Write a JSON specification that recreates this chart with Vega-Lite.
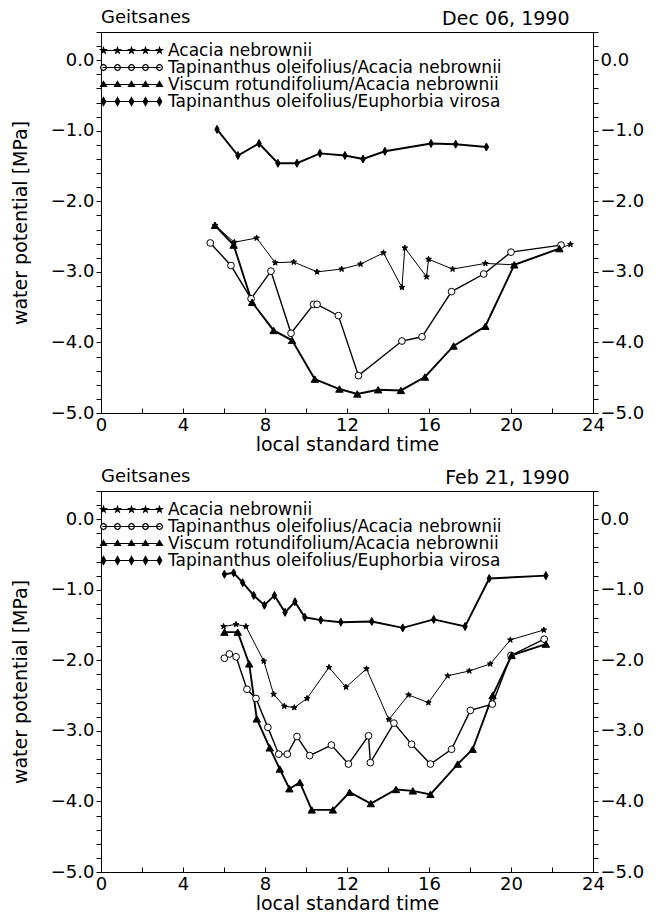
{
 "$schema": "https://vega.github.io/schema/vega-lite/v6.json",
 "padding": {"left": 10, "top": 8, "right": 2, "bottom": 0},
 "spacing": 12,
 "config": {
  "font": "DejaVu Sans",
  "view": {"stroke": "black", "strokeWidth": 1},
  "axis": {"grid": false, "domainColor": "black", "tickColor": "black", "labelColor": "black", "titleColor": "black", "labelFontSize": 18, "titleFontSize": 19, "titleFontWeight": "normal", "labelFont": "DejaVu Sans", "titleFont": "DejaVu Sans"},
  "title": {"fontSize": 18, "fontWeight": "normal", "font": "DejaVu Sans", "color": "black", "anchor": "start", "frame": "group"}
 },
 "datasets": {
  "d": [
   {"p":"Dec","s":"Acacia nebrownii","t":5.56,"v":-2.34},
   {"p":"Dec","s":"Acacia nebrownii","t":6.5,"v":-2.58},
   {"p":"Dec","s":"Acacia nebrownii","t":7.59,"v":-2.52},
   {"p":"Dec","s":"Acacia nebrownii","t":8.5,"v":-2.87},
   {"p":"Dec","s":"Acacia nebrownii","t":9.4,"v":-2.86},
   {"p":"Dec","s":"Acacia nebrownii","t":10.54,"v":-3.0},
   {"p":"Dec","s":"Acacia nebrownii","t":11.74,"v":-2.96},
   {"p":"Dec","s":"Acacia nebrownii","t":12.66,"v":-2.89},
   {"p":"Dec","s":"Acacia nebrownii","t":13.78,"v":-2.73},
   {"p":"Dec","s":"Acacia nebrownii","t":14.68,"v":-3.22},
   {"p":"Dec","s":"Acacia nebrownii","t":14.82,"v":-2.66},
   {"p":"Dec","s":"Acacia nebrownii","t":15.88,"v":-3.07},
   {"p":"Dec","s":"Acacia nebrownii","t":15.98,"v":-2.82},
   {"p":"Dec","s":"Acacia nebrownii","t":17.15,"v":-2.96},
   {"p":"Dec","s":"Acacia nebrownii","t":18.75,"v":-2.88},
   {"p":"Dec","s":"Acacia nebrownii","t":20.16,"v":-2.9},
   {"p":"Dec","s":"Acacia nebrownii","t":22.9,"v":-2.61},
   {"p":"Dec","s":"Tapinanthus oleifolius/Acacia nebrownii","t":5.33,"v":-2.59},
   {"p":"Dec","s":"Tapinanthus oleifolius/Acacia nebrownii","t":6.34,"v":-2.91},
   {"p":"Dec","s":"Tapinanthus oleifolius/Acacia nebrownii","t":7.32,"v":-3.38},
   {"p":"Dec","s":"Tapinanthus oleifolius/Acacia nebrownii","t":8.29,"v":-2.99},
   {"p":"Dec","s":"Tapinanthus oleifolius/Acacia nebrownii","t":9.27,"v":-3.87},
   {"p":"Dec","s":"Tapinanthus oleifolius/Acacia nebrownii","t":10.37,"v":-3.46},
   {"p":"Dec","s":"Tapinanthus oleifolius/Acacia nebrownii","t":10.54,"v":-3.46},
   {"p":"Dec","s":"Tapinanthus oleifolius/Acacia nebrownii","t":11.58,"v":-3.62},
   {"p":"Dec","s":"Tapinanthus oleifolius/Acacia nebrownii","t":12.56,"v":-4.47},
   {"p":"Dec","s":"Tapinanthus oleifolius/Acacia nebrownii","t":14.68,"v":-3.98},
   {"p":"Dec","s":"Tapinanthus oleifolius/Acacia nebrownii","t":15.66,"v":-3.92},
   {"p":"Dec","s":"Tapinanthus oleifolius/Acacia nebrownii","t":17.1,"v":-3.28},
   {"p":"Dec","s":"Tapinanthus oleifolius/Acacia nebrownii","t":18.67,"v":-3.03},
   {"p":"Dec","s":"Tapinanthus oleifolius/Acacia nebrownii","t":20.0,"v":-2.72},
   {"p":"Dec","s":"Tapinanthus oleifolius/Acacia nebrownii","t":22.44,"v":-2.62},
   {"p":"Dec","s":"Viscum rotundifolium/Acacia nebrownii","t":5.56,"v":-2.34},
   {"p":"Dec","s":"Viscum rotundifolium/Acacia nebrownii","t":6.47,"v":-2.62},
   {"p":"Dec","s":"Viscum rotundifolium/Acacia nebrownii","t":7.37,"v":-3.43},
   {"p":"Dec","s":"Viscum rotundifolium/Acacia nebrownii","t":8.42,"v":-3.83},
   {"p":"Dec","s":"Viscum rotundifolium/Acacia nebrownii","t":9.32,"v":-3.97},
   {"p":"Dec","s":"Viscum rotundifolium/Acacia nebrownii","t":10.43,"v":-4.52},
   {"p":"Dec","s":"Viscum rotundifolium/Acacia nebrownii","t":11.63,"v":-4.66},
   {"p":"Dec","s":"Viscum rotundifolium/Acacia nebrownii","t":12.5,"v":-4.73},
   {"p":"Dec","s":"Viscum rotundifolium/Acacia nebrownii","t":13.52,"v":-4.67},
   {"p":"Dec","s":"Viscum rotundifolium/Acacia nebrownii","t":14.63,"v":-4.68},
   {"p":"Dec","s":"Viscum rotundifolium/Acacia nebrownii","t":15.8,"v":-4.49},
   {"p":"Dec","s":"Viscum rotundifolium/Acacia nebrownii","t":17.2,"v":-4.05},
   {"p":"Dec","s":"Viscum rotundifolium/Acacia nebrownii","t":18.75,"v":-3.77},
   {"p":"Dec","s":"Viscum rotundifolium/Acacia nebrownii","t":20.16,"v":-2.9},
   {"p":"Dec","s":"Viscum rotundifolium/Acacia nebrownii","t":22.36,"v":-2.67},
   {"p":"Dec","s":"Tapinanthus oleifolius/Euphorbia virosa","t":5.66,"v":-0.98},
   {"p":"Dec","s":"Tapinanthus oleifolius/Euphorbia virosa","t":6.68,"v":-1.35},
   {"p":"Dec","s":"Tapinanthus oleifolius/Euphorbia virosa","t":7.71,"v":-1.18},
   {"p":"Dec","s":"Tapinanthus oleifolius/Euphorbia virosa","t":8.63,"v":-1.46},
   {"p":"Dec","s":"Tapinanthus oleifolius/Euphorbia virosa","t":9.56,"v":-1.46},
   {"p":"Dec","s":"Tapinanthus oleifolius/Euphorbia virosa","t":10.68,"v":-1.32},
   {"p":"Dec","s":"Tapinanthus oleifolius/Euphorbia virosa","t":11.9,"v":-1.35},
   {"p":"Dec","s":"Tapinanthus oleifolius/Euphorbia virosa","t":12.78,"v":-1.4},
   {"p":"Dec","s":"Tapinanthus oleifolius/Euphorbia virosa","t":13.85,"v":-1.29},
   {"p":"Dec","s":"Tapinanthus oleifolius/Euphorbia virosa","t":16.1,"v":-1.18},
   {"p":"Dec","s":"Tapinanthus oleifolius/Euphorbia virosa","t":17.3,"v":-1.19},
   {"p":"Dec","s":"Tapinanthus oleifolius/Euphorbia virosa","t":18.8,"v":-1.23},

   {"p":"Feb","s":"Acacia nebrownii","t":5.98,"v":-1.52},
   {"p":"Feb","s":"Acacia nebrownii","t":6.59,"v":-1.49},
   {"p":"Feb","s":"Acacia nebrownii","t":7.07,"v":-1.52},
   {"p":"Feb","s":"Acacia nebrownii","t":7.94,"v":-2.01},
   {"p":"Feb","s":"Acacia nebrownii","t":8.42,"v":-2.48},
   {"p":"Feb","s":"Acacia nebrownii","t":8.94,"v":-2.65},
   {"p":"Feb","s":"Acacia nebrownii","t":9.43,"v":-2.67},
   {"p":"Feb","s":"Acacia nebrownii","t":10.05,"v":-2.54},
   {"p":"Feb","s":"Acacia nebrownii","t":11.12,"v":-2.1},
   {"p":"Feb","s":"Acacia nebrownii","t":11.95,"v":-2.38},
   {"p":"Feb","s":"Acacia nebrownii","t":12.95,"v":-2.12},
   {"p":"Feb","s":"Acacia nebrownii","t":14.04,"v":-2.84},
   {"p":"Feb","s":"Acacia nebrownii","t":15.0,"v":-2.49},
   {"p":"Feb","s":"Acacia nebrownii","t":15.97,"v":-2.6},
   {"p":"Feb","s":"Acacia nebrownii","t":16.91,"v":-2.22},
   {"p":"Feb","s":"Acacia nebrownii","t":17.97,"v":-2.15},
   {"p":"Feb","s":"Acacia nebrownii","t":18.99,"v":-2.05},
   {"p":"Feb","s":"Acacia nebrownii","t":19.97,"v":-1.71},
   {"p":"Feb","s":"Acacia nebrownii","t":21.6,"v":-1.57},
   {"p":"Feb","s":"Tapinanthus oleifolius/Acacia nebrownii","t":6.02,"v":-1.97},
   {"p":"Feb","s":"Tapinanthus oleifolius/Acacia nebrownii","t":6.26,"v":-1.91},
   {"p":"Feb","s":"Tapinanthus oleifolius/Acacia nebrownii","t":6.59,"v":-1.95},
   {"p":"Feb","s":"Tapinanthus oleifolius/Acacia nebrownii","t":7.12,"v":-2.41},
   {"p":"Feb","s":"Tapinanthus oleifolius/Acacia nebrownii","t":7.56,"v":-2.54},
   {"p":"Feb","s":"Tapinanthus oleifolius/Acacia nebrownii","t":8.14,"v":-2.95},
   {"p":"Feb","s":"Tapinanthus oleifolius/Acacia nebrownii","t":8.67,"v":-3.33},
   {"p":"Feb","s":"Tapinanthus oleifolius/Acacia nebrownii","t":9.09,"v":-3.33},
   {"p":"Feb","s":"Tapinanthus oleifolius/Acacia nebrownii","t":9.56,"v":-3.08},
   {"p":"Feb","s":"Tapinanthus oleifolius/Acacia nebrownii","t":10.18,"v":-3.35},
   {"p":"Feb","s":"Tapinanthus oleifolius/Acacia nebrownii","t":11.24,"v":-3.2},
   {"p":"Feb","s":"Tapinanthus oleifolius/Acacia nebrownii","t":12.07,"v":-3.47},
   {"p":"Feb","s":"Tapinanthus oleifolius/Acacia nebrownii","t":13.05,"v":-3.07},
   {"p":"Feb","s":"Tapinanthus oleifolius/Acacia nebrownii","t":13.14,"v":-3.45},
   {"p":"Feb","s":"Tapinanthus oleifolius/Acacia nebrownii","t":14.29,"v":-2.89},
   {"p":"Feb","s":"Tapinanthus oleifolius/Acacia nebrownii","t":15.15,"v":-3.19},
   {"p":"Feb","s":"Tapinanthus oleifolius/Acacia nebrownii","t":16.07,"v":-3.47},
   {"p":"Feb","s":"Tapinanthus oleifolius/Acacia nebrownii","t":17.1,"v":-3.26},
   {"p":"Feb","s":"Tapinanthus oleifolius/Acacia nebrownii","t":18.02,"v":-2.71},
   {"p":"Feb","s":"Tapinanthus oleifolius/Acacia nebrownii","t":19.09,"v":-2.62},
   {"p":"Feb","s":"Tapinanthus oleifolius/Acacia nebrownii","t":20.0,"v":-1.93},
   {"p":"Feb","s":"Tapinanthus oleifolius/Acacia nebrownii","t":21.62,"v":-1.7},
   {"p":"Feb","s":"Viscum rotundifolium/Acacia nebrownii","t":6.02,"v":-1.6},
   {"p":"Feb","s":"Viscum rotundifolium/Acacia nebrownii","t":6.67,"v":-1.6},
   {"p":"Feb","s":"Viscum rotundifolium/Acacia nebrownii","t":7.23,"v":-2.05},
   {"p":"Feb","s":"Viscum rotundifolium/Acacia nebrownii","t":7.6,"v":-2.83},
   {"p":"Feb","s":"Viscum rotundifolium/Acacia nebrownii","t":8.23,"v":-3.24},
   {"p":"Feb","s":"Viscum rotundifolium/Acacia nebrownii","t":8.72,"v":-3.54},
   {"p":"Feb","s":"Viscum rotundifolium/Acacia nebrownii","t":9.19,"v":-3.82},
   {"p":"Feb","s":"Viscum rotundifolium/Acacia nebrownii","t":9.7,"v":-3.73},
   {"p":"Feb","s":"Viscum rotundifolium/Acacia nebrownii","t":10.28,"v":-4.12},
   {"p":"Feb","s":"Viscum rotundifolium/Acacia nebrownii","t":11.31,"v":-4.12},
   {"p":"Feb","s":"Viscum rotundifolium/Acacia nebrownii","t":12.13,"v":-3.87},
   {"p":"Feb","s":"Viscum rotundifolium/Acacia nebrownii","t":13.16,"v":-4.03},
   {"p":"Feb","s":"Viscum rotundifolium/Acacia nebrownii","t":14.39,"v":-3.83},
   {"p":"Feb","s":"Viscum rotundifolium/Acacia nebrownii","t":15.21,"v":-3.85},
   {"p":"Feb","s":"Viscum rotundifolium/Acacia nebrownii","t":16.07,"v":-3.9},
   {"p":"Feb","s":"Viscum rotundifolium/Acacia nebrownii","t":17.4,"v":-3.47},
   {"p":"Feb","s":"Viscum rotundifolium/Acacia nebrownii","t":18.13,"v":-3.26},
   {"p":"Feb","s":"Viscum rotundifolium/Acacia nebrownii","t":19.1,"v":-2.5},
   {"p":"Feb","s":"Viscum rotundifolium/Acacia nebrownii","t":20.03,"v":-1.93},
   {"p":"Feb","s":"Viscum rotundifolium/Acacia nebrownii","t":21.7,"v":-1.77},
   {"p":"Feb","s":"Tapinanthus oleifolius/Euphorbia virosa","t":6.02,"v":-0.78},
   {"p":"Feb","s":"Tapinanthus oleifolius/Euphorbia virosa","t":6.47,"v":-0.76},
   {"p":"Feb","s":"Tapinanthus oleifolius/Euphorbia virosa","t":6.91,"v":-0.9},
   {"p":"Feb","s":"Tapinanthus oleifolius/Euphorbia virosa","t":7.45,"v":-1.08},
   {"p":"Feb","s":"Tapinanthus oleifolius/Euphorbia virosa","t":7.97,"v":-1.22},
   {"p":"Feb","s":"Tapinanthus oleifolius/Euphorbia virosa","t":8.46,"v":-1.08},
   {"p":"Feb","s":"Tapinanthus oleifolius/Euphorbia virosa","t":8.98,"v":-1.32},
   {"p":"Feb","s":"Tapinanthus oleifolius/Euphorbia virosa","t":9.46,"v":-1.17},
   {"p":"Feb","s":"Tapinanthus oleifolius/Euphorbia virosa","t":9.94,"v":-1.39},
   {"p":"Feb","s":"Tapinanthus oleifolius/Euphorbia virosa","t":10.72,"v":-1.43},
   {"p":"Feb","s":"Tapinanthus oleifolius/Euphorbia virosa","t":11.7,"v":-1.46},
   {"p":"Feb","s":"Tapinanthus oleifolius/Euphorbia virosa","t":13.21,"v":-1.45},
   {"p":"Feb","s":"Tapinanthus oleifolius/Euphorbia virosa","t":14.72,"v":-1.54},
   {"p":"Feb","s":"Tapinanthus oleifolius/Euphorbia virosa","t":16.23,"v":-1.42},
   {"p":"Feb","s":"Tapinanthus oleifolius/Euphorbia virosa","t":17.76,"v":-1.52},
   {"p":"Feb","s":"Tapinanthus oleifolius/Euphorbia virosa","t":18.94,"v":-0.84},
   {"p":"Feb","s":"Tapinanthus oleifolius/Euphorbia virosa","t":21.7,"v":-0.8}
  ]
 },
 "resolve": {"scale": {"shape": "independent", "fill": "independent", "size": "independent", "stroke": "independent"}, "legend": {"shape": "independent", "fill": "independent", "size": "independent", "stroke": "independent"}},
 "vconcat": [
  {
   "width": 492, "height": 381,
   "data": {"name": "d"},
   "transform": [{"filter": "datum.p === 'Dec'"}],
   "title": {"text": "Geitsanes", "offset": -18},
   "layer": [
    {
     "transform": [{"filter": "datum.s === 'Acacia nebrownii'"}],
     "mark": {"type": "line", "color": "black", "strokeWidth": 1},
     "encoding": {
      "x": {"field": "t", "type": "quantitative", "scale": {"domain": [0, 24], "nice": false}, "axis": {"values": [0,1,2,3,4,5,6,7,8,9,10,11,12,13,14,15,16,17,18,19,20,21,22,23,24], "labelExpr": "datum.value % 4 === 0 ? datum.label : ''", "format": "d", "tickSize": -5, "labelPadding": 8, "labelFlush": false, "labelOverlap": false, "title": "local standard time", "titlePadding": 1}},
      "y": {"field": "v", "type": "quantitative", "scale": {"domain": [-5, 0.4], "nice": false, "zero": false}, "axis": {"orient": "left", "values": [-5,-4.8,-4.6,-4.4,-4.2,-4,-3.8,-3.6,-3.4,-3.2,-3,-2.8,-2.6,-2.4,-2.2,-2,-1.8,-1.6,-1.4,-1.2,-1,-0.8,-0.6,-0.4,-0.2,0,0.2,0.4], "labelExpr": "abs(datum.value - round(datum.value)) < 0.01 ? format(datum.value, '.1f') : ''", "tickSize": 5, "labelPadding": 2, "labelOverlap": false, "labelFlush": false, "title": "water potential [MPa]", "titlePadding": 20}}
     }
    },
    {
     "transform": [{"filter": "datum.s === 'Tapinanthus oleifolius/Acacia nebrownii'"}],
     "mark": {"type": "line", "color": "black", "strokeWidth": 1.4},
     "encoding": {
      "x": {"field": "t", "type": "quantitative"},
      "y": {"field": "v", "type": "quantitative", "axis": null}
     }
    },
    {
     "transform": [{"filter": "datum.s === 'Viscum rotundifolium/Acacia nebrownii' || datum.s === 'Tapinanthus oleifolius/Euphorbia virosa'"}],
     "mark": {"type": "line", "color": "black", "strokeWidth": 1.9},
     "encoding": {
      "x": {"field": "t", "type": "quantitative"},
      "y": {"field": "v", "type": "quantitative", "axis": null},
      "detail": {"field": "s"}
     }
    },
    {
     "mark": {"type": "point", "filled": true, "stroke": "black", "strokeWidth": 1, "opacity": 1},
     "encoding": {
      "x": {"field": "t", "type": "quantitative"},
      "y": {"field": "v", "type": "quantitative", "axis": {"orient": "right", "values": [-5,-4.8,-4.6,-4.4,-4.2,-4,-3.8,-3.6,-3.4,-3.2,-3,-2.8,-2.6,-2.4,-2.2,-2,-1.8,-1.6,-1.4,-1.2,-1,-0.8,-0.6,-0.4,-0.2,0,0.2,0.4], "labelExpr": "abs(datum.value - round(datum.value)) < 0.01 ? format(datum.value, '.1f') : ''", "tickSize": 5, "labelPadding": 2, "labelOverlap": false, "labelFlush": false, "title": "Dec 06, 1990", "titleFontSize": 19, "titleAngle": 0, "titleX": -24, "titleY": -8, "titleAlign": "right", "titleBaseline": "alphabetic"}},
      "shape": {"field": "s", "type": "nominal", "scale": {"domain": ["Acacia nebrownii", "Tapinanthus oleifolius/Acacia nebrownii", "Viscum rotundifolium/Acacia nebrownii", "Tapinanthus oleifolius/Euphorbia virosa"], "range": ["M0,-1L0.235,-0.324L0.951,-0.309L0.38,0.124L0.588,0.809L0,0.4L-0.588,0.809L-0.38,0.124L-0.951,-0.309L-0.235,-0.324Z", "circle", "triangle-up", "M0,-1L0.55,0L0,1L-0.55,0Z"]}, "legend": null},
      "fill": {"field": "s", "type": "nominal", "scale": {"domain": ["Acacia nebrownii", "Tapinanthus oleifolius/Acacia nebrownii", "Viscum rotundifolium/Acacia nebrownii", "Tapinanthus oleifolius/Euphorbia virosa"], "range": ["black", "white", "black", "black"]}, "legend": null},
      "size": {"field": "s", "type": "nominal", "scale": {"domain": ["Acacia nebrownii", "Tapinanthus oleifolius/Acacia nebrownii", "Viscum rotundifolium/Acacia nebrownii", "Tapinanthus oleifolius/Euphorbia virosa"], "range": [36, 64, 40, 81]}, "legend": null}
     }
    },
    {
     "transform": [{"filter": "datum.t < 0"}],
     "mark": {"type": "point", "filled": true, "stroke": "black", "strokeWidth": 1.2, "opacity": 1},
     "encoding": {
      "x": {"field": "t", "type": "quantitative"},
      "y": {"field": "v", "type": "quantitative", "axis": null},
      "shape": {"field": "s", "type": "nominal", "scale": {"domain": ["Acacia nebrownii", "Tapinanthus oleifolius/Acacia nebrownii", "Viscum rotundifolium/Acacia nebrownii", "Tapinanthus oleifolius/Euphorbia virosa"], "range": ["M-1,0L57,0M0,-3L0.71,-0.97L2.85,-0.93L1.14,0.37L1.76,2.43L0,1.2L-1.76,2.43L-1.14,0.37L-2.85,-0.93L-0.71,-0.97ZM14,-3L14.71,-0.97L16.85,-0.93L15.14,0.37L15.76,2.43L14,1.2L12.24,2.43L12.86,0.37L11.15,-0.93L13.29,-0.97ZM28,-3L28.71,-0.97L30.85,-0.93L29.14,0.37L29.76,2.43L28,1.2L26.24,2.43L26.86,0.37L25.15,-0.93L27.29,-0.97ZM42,-3L42.71,-0.97L44.85,-0.93L43.14,0.37L43.76,2.43L42,1.2L40.24,2.43L40.86,0.37L39.15,-0.93L41.29,-0.97ZM56,-3L56.71,-0.97L58.85,-0.93L57.14,0.37L57.76,2.43L56,1.2L54.24,2.43L54.86,0.37L53.15,-0.93L55.29,-0.97Z", "M-1,0L57,0M3,0L2.1,2.1L0,3L-2.1,2.1L-3,0L-2.1,-2.1L0,-3L2.1,-2.1ZM17,0L16.1,2.1L14,3L11.9,2.1L11,0L11.9,-2.1L14,-3L16.1,-2.1ZM31,0L30.1,2.1L28,3L25.9,2.1L25,0L25.9,-2.1L28,-3L30.1,-2.1ZM45,0L44.1,2.1L42,3L39.9,2.1L39,0L39.9,-2.1L42,-3L44.1,-2.1ZM59,0L58.1,2.1L56,3L53.9,2.1L53,0L53.9,-2.1L56,-3L58.1,-2.1Z", "M-1,0L57,0M0,-3L3,2L-3,2ZM14,-3L17,2L11,2ZM28,-3L31,2L25,2ZM42,-3L45,2L39,2ZM56,-3L59,2L53,2Z", "M-1,0L57,0M0,-4L2.2,0L0,4L-2.2,0ZM14,-4L16.2,0L14,4L11.8,0ZM28,-4L30.2,0L28,4L25.8,0ZM42,-4L44.2,0L42,4L39.8,0ZM56,-4L58.2,0L56,4L53.8,0Z"]},
       "legend": {"orient": "none", "legendX": -6, "legendY": 10, "title": null, "padding": 0, "labelFontSize": 17, "labelFont": "DejaVu Sans", "labelColor": "black", "labelLimit": 600, "labelOffset": 56, "rowPadding": -3, "symbolSize": 4, "symbolStrokeWidth": 1.2, "symbolOpacity": 1}},
      "fill": {"field": "s", "type": "nominal", "scale": {"domain": ["Acacia nebrownii", "Tapinanthus oleifolius/Acacia nebrownii", "Viscum rotundifolium/Acacia nebrownii", "Tapinanthus oleifolius/Euphorbia virosa"], "range": ["black", "white", "black", "black"]}},
      "stroke": {"field": "s", "type": "nominal", "scale": {"domain": ["Acacia nebrownii", "Tapinanthus oleifolius/Acacia nebrownii", "Viscum rotundifolium/Acacia nebrownii", "Tapinanthus oleifolius/Euphorbia virosa"], "range": ["black", "black", "black", "black"]}}
     }
    }
   ],
   "resolve": {"axis": {"y": "independent"}, "scale": {"shape": "independent", "fill": "independent", "size": "independent", "stroke": "independent"}}
  },
  {
   "width": 492, "height": 381,
   "data": {"name": "d"},
   "transform": [{"filter": "datum.p === 'Feb'"}],
   "title": {"text": "Geitsanes", "offset": -18},
   "layer": [
    {
     "transform": [{"filter": "datum.s === 'Acacia nebrownii'"}],
     "mark": {"type": "line", "color": "black", "strokeWidth": 1},
     "encoding": {
      "x": {"field": "t", "type": "quantitative", "scale": {"domain": [0, 24], "nice": false}, "axis": {"values": [0,1,2,3,4,5,6,7,8,9,10,11,12,13,14,15,16,17,18,19,20,21,22,23,24], "labelExpr": "datum.value % 4 === 0 ? datum.label : ''", "format": "d", "tickSize": -5, "labelPadding": 8, "labelFlush": false, "labelOverlap": false, "title": "local standard time", "titlePadding": 1}},
      "y": {"field": "v", "type": "quantitative", "scale": {"domain": [-5, 0.4], "nice": false, "zero": false}, "axis": {"orient": "left", "values": [-5,-4.8,-4.6,-4.4,-4.2,-4,-3.8,-3.6,-3.4,-3.2,-3,-2.8,-2.6,-2.4,-2.2,-2,-1.8,-1.6,-1.4,-1.2,-1,-0.8,-0.6,-0.4,-0.2,0,0.2,0.4], "labelExpr": "abs(datum.value - round(datum.value)) < 0.01 ? format(datum.value, '.1f') : ''", "tickSize": 5, "labelPadding": 2, "labelOverlap": false, "labelFlush": false, "title": "water potential [MPa]", "titlePadding": 20}}
     }
    },
    {
     "transform": [{"filter": "datum.s === 'Tapinanthus oleifolius/Acacia nebrownii'"}],
     "mark": {"type": "line", "color": "black", "strokeWidth": 1.4},
     "encoding": {
      "x": {"field": "t", "type": "quantitative"},
      "y": {"field": "v", "type": "quantitative", "axis": null}
     }
    },
    {
     "transform": [{"filter": "datum.s === 'Viscum rotundifolium/Acacia nebrownii' || datum.s === 'Tapinanthus oleifolius/Euphorbia virosa'"}],
     "mark": {"type": "line", "color": "black", "strokeWidth": 1.9},
     "encoding": {
      "x": {"field": "t", "type": "quantitative"},
      "y": {"field": "v", "type": "quantitative", "axis": null},
      "detail": {"field": "s"}
     }
    },
    {
     "mark": {"type": "point", "filled": true, "stroke": "black", "strokeWidth": 1, "opacity": 1},
     "encoding": {
      "x": {"field": "t", "type": "quantitative"},
      "y": {"field": "v", "type": "quantitative", "axis": {"orient": "right", "values": [-5,-4.8,-4.6,-4.4,-4.2,-4,-3.8,-3.6,-3.4,-3.2,-3,-2.8,-2.6,-2.4,-2.2,-2,-1.8,-1.6,-1.4,-1.2,-1,-0.8,-0.6,-0.4,-0.2,0,0.2,0.4], "labelExpr": "abs(datum.value - round(datum.value)) < 0.01 ? format(datum.value, '.1f') : ''", "tickSize": 5, "labelPadding": 2, "labelOverlap": false, "labelFlush": false, "title": "Feb 21, 1990", "titleFontSize": 19, "titleAngle": 0, "titleX": -24, "titleY": -8, "titleAlign": "right", "titleBaseline": "alphabetic"}},
      "shape": {"field": "s", "type": "nominal", "scale": {"domain": ["Acacia nebrownii", "Tapinanthus oleifolius/Acacia nebrownii", "Viscum rotundifolium/Acacia nebrownii", "Tapinanthus oleifolius/Euphorbia virosa"], "range": ["M0,-1L0.235,-0.324L0.951,-0.309L0.38,0.124L0.588,0.809L0,0.4L-0.588,0.809L-0.38,0.124L-0.951,-0.309L-0.235,-0.324Z", "circle", "triangle-up", "M0,-1L0.55,0L0,1L-0.55,0Z"]}, "legend": null},
      "fill": {"field": "s", "type": "nominal", "scale": {"domain": ["Acacia nebrownii", "Tapinanthus oleifolius/Acacia nebrownii", "Viscum rotundifolium/Acacia nebrownii", "Tapinanthus oleifolius/Euphorbia virosa"], "range": ["black", "white", "black", "black"]}, "legend": null},
      "size": {"field": "s", "type": "nominal", "scale": {"domain": ["Acacia nebrownii", "Tapinanthus oleifolius/Acacia nebrownii", "Viscum rotundifolium/Acacia nebrownii", "Tapinanthus oleifolius/Euphorbia virosa"], "range": [36, 64, 40, 81]}, "legend": null}
     }
    },
    {
     "transform": [{"filter": "datum.t < 0"}],
     "mark": {"type": "point", "filled": true, "stroke": "black", "strokeWidth": 1.2, "opacity": 1},
     "encoding": {
      "x": {"field": "t", "type": "quantitative"},
      "y": {"field": "v", "type": "quantitative", "axis": null},
      "shape": {"field": "s", "type": "nominal", "scale": {"domain": ["Acacia nebrownii", "Tapinanthus oleifolius/Acacia nebrownii", "Viscum rotundifolium/Acacia nebrownii", "Tapinanthus oleifolius/Euphorbia virosa"], "range": ["M-1,0L57,0M0,-3L0.71,-0.97L2.85,-0.93L1.14,0.37L1.76,2.43L0,1.2L-1.76,2.43L-1.14,0.37L-2.85,-0.93L-0.71,-0.97ZM14,-3L14.71,-0.97L16.85,-0.93L15.14,0.37L15.76,2.43L14,1.2L12.24,2.43L12.86,0.37L11.15,-0.93L13.29,-0.97ZM28,-3L28.71,-0.97L30.85,-0.93L29.14,0.37L29.76,2.43L28,1.2L26.24,2.43L26.86,0.37L25.15,-0.93L27.29,-0.97ZM42,-3L42.71,-0.97L44.85,-0.93L43.14,0.37L43.76,2.43L42,1.2L40.24,2.43L40.86,0.37L39.15,-0.93L41.29,-0.97ZM56,-3L56.71,-0.97L58.85,-0.93L57.14,0.37L57.76,2.43L56,1.2L54.24,2.43L54.86,0.37L53.15,-0.93L55.29,-0.97Z", "M-1,0L57,0M3,0L2.1,2.1L0,3L-2.1,2.1L-3,0L-2.1,-2.1L0,-3L2.1,-2.1ZM17,0L16.1,2.1L14,3L11.9,2.1L11,0L11.9,-2.1L14,-3L16.1,-2.1ZM31,0L30.1,2.1L28,3L25.9,2.1L25,0L25.9,-2.1L28,-3L30.1,-2.1ZM45,0L44.1,2.1L42,3L39.9,2.1L39,0L39.9,-2.1L42,-3L44.1,-2.1ZM59,0L58.1,2.1L56,3L53.9,2.1L53,0L53.9,-2.1L56,-3L58.1,-2.1Z", "M-1,0L57,0M0,-3L3,2L-3,2ZM14,-3L17,2L11,2ZM28,-3L31,2L25,2ZM42,-3L45,2L39,2ZM56,-3L59,2L53,2Z", "M-1,0L57,0M0,-4L2.2,0L0,4L-2.2,0ZM14,-4L16.2,0L14,4L11.8,0ZM28,-4L30.2,0L28,4L25.8,0ZM42,-4L44.2,0L42,4L39.8,0ZM56,-4L58.2,0L56,4L53.8,0Z"]},
       "legend": {"orient": "none", "legendX": -6, "legendY": 10, "title": null, "padding": 0, "labelFontSize": 17, "labelFont": "DejaVu Sans", "labelColor": "black", "labelLimit": 600, "labelOffset": 56, "rowPadding": -3, "symbolSize": 4, "symbolStrokeWidth": 1.2, "symbolOpacity": 1}},
      "fill": {"field": "s", "type": "nominal", "scale": {"domain": ["Acacia nebrownii", "Tapinanthus oleifolius/Acacia nebrownii", "Viscum rotundifolium/Acacia nebrownii", "Tapinanthus oleifolius/Euphorbia virosa"], "range": ["black", "white", "black", "black"]}},
      "stroke": {"field": "s", "type": "nominal", "scale": {"domain": ["Acacia nebrownii", "Tapinanthus oleifolius/Acacia nebrownii", "Viscum rotundifolium/Acacia nebrownii", "Tapinanthus oleifolius/Euphorbia virosa"], "range": ["black", "black", "black", "black"]}}
     }
    }
   ],
   "resolve": {"axis": {"y": "independent"}, "scale": {"shape": "independent", "fill": "independent", "size": "independent", "stroke": "independent"}}
  }
 ]
}
